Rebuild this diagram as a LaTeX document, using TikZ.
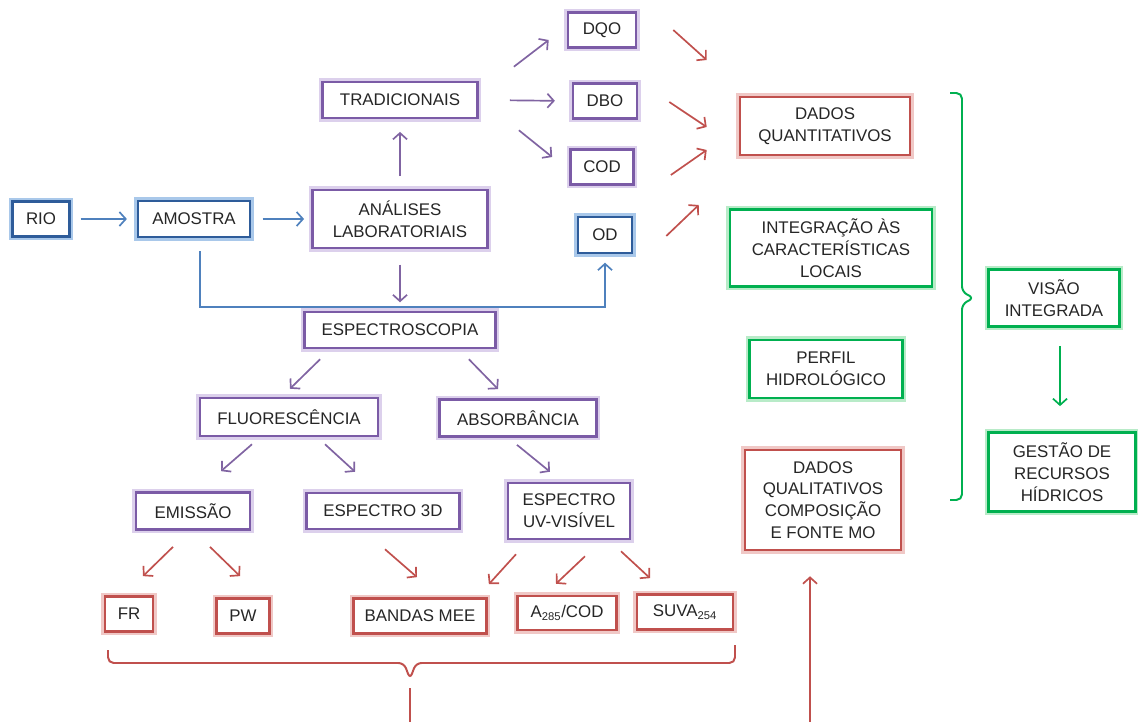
\documentclass[tikz,border=0pt]{standalone}
\usepackage{fontspec}
\setmainfont{Liberation Sans}
\usetikzlibrary{arrows.meta}

\definecolor{blueline}{HTML}{2E5C9A}
\definecolor{blueglow}{HTML}{A9C8EA}
\definecolor{bluearrow}{HTML}{4F81BD}
\definecolor{purpline}{HTML}{7B5BA6}
\definecolor{purpglow}{HTML}{DCD0EC}
\definecolor{purparrow}{HTML}{8064A2}
\definecolor{redline}{HTML}{C0504D}
\definecolor{redglow}{HTML}{F0C8C6}
\definecolor{greenline}{HTML}{00B050}
\definecolor{greenglow}{HTML}{B8EBC8}
\definecolor{textgray}{HTML}{262626}

\tikzset{
  box/.style={rectangle, align=center, inner sep=2pt, fill=white, text=textgray,
    line width=1.8pt, font=\fontsize{12}{15.5}\selectfont},
  dims/.style 2 args={minimum width=#1cm, minimum height=#2cm},
  bluebox/.style={box, draw=blueline, preaction={draw=blueglow, line width=5pt}},
  purpbox/.style={box, draw=purpline, preaction={draw=purpglow, line width=5pt}},
  redbox/.style={box, draw=redline, preaction={draw=redglow, line width=5pt}},
  greenbox/.style={box, draw=greenline, preaction={draw=greenglow, line width=5pt}},
  arr/.style={line width=1.2pt, -{Straight Barb[length=4.5pt,width=10pt]}},
  bluearr/.style={arr, draw=bluearrow},
  purparr/.style={arr, draw=purparrow},
  redarr/.style={arr, draw=redline},
  greenarr/.style={arr, draw=greenline},
  bracket/.style={line width=1.4pt, rounded corners=4pt},
}

\begin{document}
\begin{tikzpicture}[x=0.025cm, y=-0.025cm]
    \useasboundingbox (0,0) rectangle (1138,722);

    % Amostra e analises
    \node[bluebox, dims={1.43}{0.88}] (rio) at (41,219) {RIO};
    \node[bluebox, dims={2.8}{0.9}] (amostra) at (194,219) {AMOSTRA};
    \node[purpbox, dims={4.38}{1.45}] (analises) at (400,219) {ANÁLISES\\LABORATORIAIS};
    \node[purpbox, dims={3.88}{0.9}] (trad) at (400,100) {TRADICIONAIS};
    \node[purpbox, dims={1.7}{0.88}] (dqo) at (602,30) {DQO};
    \node[purpbox, dims={1.6}{0.88}] (dbo) at (605,101) {DBO};
    \node[purpbox, dims={1.58}{0.88}] (cod) at (602,167) {COD};
    \node[bluebox, dims={1.35}{0.9}] (od) at (605,235) {OD};

    % Resultados
    \node[redbox, dims={4.25}{1.45}] (quant) at (825,126) {DADOS\\QUANTITATIVOS};
    \node[greenbox, dims={5.05}{1.93}] (integ) at (831,248) {INTEGRAÇÃO ÀS\\CARACTERÍSTICAS\\LOCAIS};
    \node[greenbox, dims={3.83}{1.45}] (perfil) at (826,369) {PERFIL\\HIDROLÓGICO};
    \node[redbox, dims={3.9}{2.5}] (qual) at (823,500) {DADOS\\QUALITATIVOS\\COMPOSIÇÃO\\E FONTE MO};
    \node[greenbox, dims={3.28}{1.43}] (visao) at (1054,298) {VISÃO\\INTEGRADA};
    \node[greenbox, dims={3.68}{1.98}] (gestao) at (1062,472) {GESTÃO DE\\RECURSOS\\HÍDRICOS};

    % Espectroscopia
    \node[purpbox, dims={4.78}{0.9}] (espc) at (400,330) {ESPECTROSCOPIA};
    \node[purpbox, dims={4.45}{0.95}] (fluor) at (289,417) {FLUORESCÊNCIA};
    \node[purpbox, dims={3.93}{0.93}] (abs) at (518,418) {ABSORBÂNCIA};
    \node[purpbox, dims={2.85}{0.93}] (emis) at (193,511) {EMISSÃO};
    \node[purpbox, dims={3.83}{0.9}] (e3d) at (383,511) {ESPECTRO 3D};
    \node[purpbox, dims={3.05}{1.4}] (uv) at (569,511) {ESPECTRO\\UV-VISÍVEL};
    \node[redbox, dims={1.2}{0.88}] (fr) at (129,614) {FR};
    \node[redbox, dims={1.33}{0.88}] (pw) at (243,616) {PW};
    \node[redbox, dims={3.33}{0.88}] (bandas) at (420,616) {BANDAS MEE};
    \node[redbox, dims={2.48}{0.85}] (a285) at (567,613) {A\textsubscript{285}/COD};
    \node[redbox, dims={2.4}{0.88}] (suva) at (685,612) {SUVA\textsubscript{254}};

    % Setas azuis
    \draw[bluearr, shorten <=7pt, shorten >=7pt] (rio.east) -- (amostra.west);
    \draw[bluearr, shorten <=8pt, shorten >=5pt] (amostra.east) -- (analises.west);
    \draw[bluearr, shorten >=6pt] ([shift={(6,13)}]amostra.south) -- ++(0,56) -| (od.south);

    % Setas roxas
    \draw[purparr, shorten <=9pt, shorten >=9pt] (analises.north) -- (trad.south);
    \draw[purparr] ([shift={(35,-14)}]trad.north east) -- ([shift={(-18,10)}]dqo.west);
    \draw[purparr, shorten <=22pt, shorten >=12pt] (trad.east) -- (dbo.west);
    \draw[purparr] ([shift={(40,11)}]trad.south east) -- ([shift={(-17,-10)}]cod.west);
    \draw[purparr, shorten <=11pt, shorten >=6pt] (analises.south) -- (espc.north);
    \draw[purparr] ([shift={(17,10)}]espc.south west) -- ([shift={(1,-8)}]fluor.north);
    \draw[purparr] ([shift={(-28,10)}]espc.south east) -- ([shift={(-20,-9)}]abs.north);
    \draw[purparr] ([shift={(-37,7)}]fluor.south) -- ([shift={(28,-20)}]emis.north);
    \draw[purparr] ([shift={(36,7)}]fluor.south) -- ([shift={(-28,-20)}]e3d.north);
    \draw[purparr] ([shift={(-1,7)}]abs.south) -- ([shift={(-19,-10)}]uv.north);

    % Setas vermelhas
    \draw[redarr] ([shift={(36,0)}]dqo.east) -- ([shift={(-32,-66)}]quant.west);
    \draw[redarr] ([shift={(31,1)}]dbo.east) -- ([shift={(-32,1)}]quant.west);
    \draw[redarr] ([shift={(36,8)}]cod.east) -- ([shift={(-32,24)}]quant.west);
    \draw[redarr] ([shift={(33,1)}]od.east) -- ([shift={(-40,79)}]quant.west);
    \draw[redarr] ([shift={(-20,16)}]emis.south) -- ([shift={(14,-19)}]fr.north);
    \draw[redarr] ([shift={(17,16)}]emis.south) -- ([shift={(-3,-21)}]pw.north);
    \draw[redarr] ([shift={(2,19)}]e3d.south) -- ([shift={(-3,-20)}]bandas.north);
    \draw[redarr] ([shift={(-53,14)}]uv.south) -- ([shift={(1,-13)}]bandas.north east);
    \draw[redarr] ([shift={(16,16)}]uv.south) -- ([shift={(-11,-11)}]a285.north);
    \draw[redarr] ([shift={(52,11)}]uv.south) -- ([shift={(-35,-15)}]suva.north);

    % Chaves
    \draw[bracket, greenline] (950,93) -- (962,93) -- (962,292) -- (974,298)
        -- (962,304) -- (962,500) -- (950,500);
    \draw[greenarr] ([shift={(6,18)}]visao.south) -- ([shift={(-2,-25)}]gestao.north);

    \draw[bracket, redline] (735,645) -- (735,663) -- (416,663) -- (410,679)
        -- (404,663) -- (108,663) -- (108,650);
    \coordinate (rtip) at (410,688);
    \coordinate (rbotL) at (410,722);
    \coordinate (rbotR) at (810,722);
    \draw[redline, line width=1.4pt] (rtip) -- (rbotL);
    \draw[redarr] (rbotR) -- ([shift={(-13,25)}]qual.south);
\end{tikzpicture}
\end{document}
